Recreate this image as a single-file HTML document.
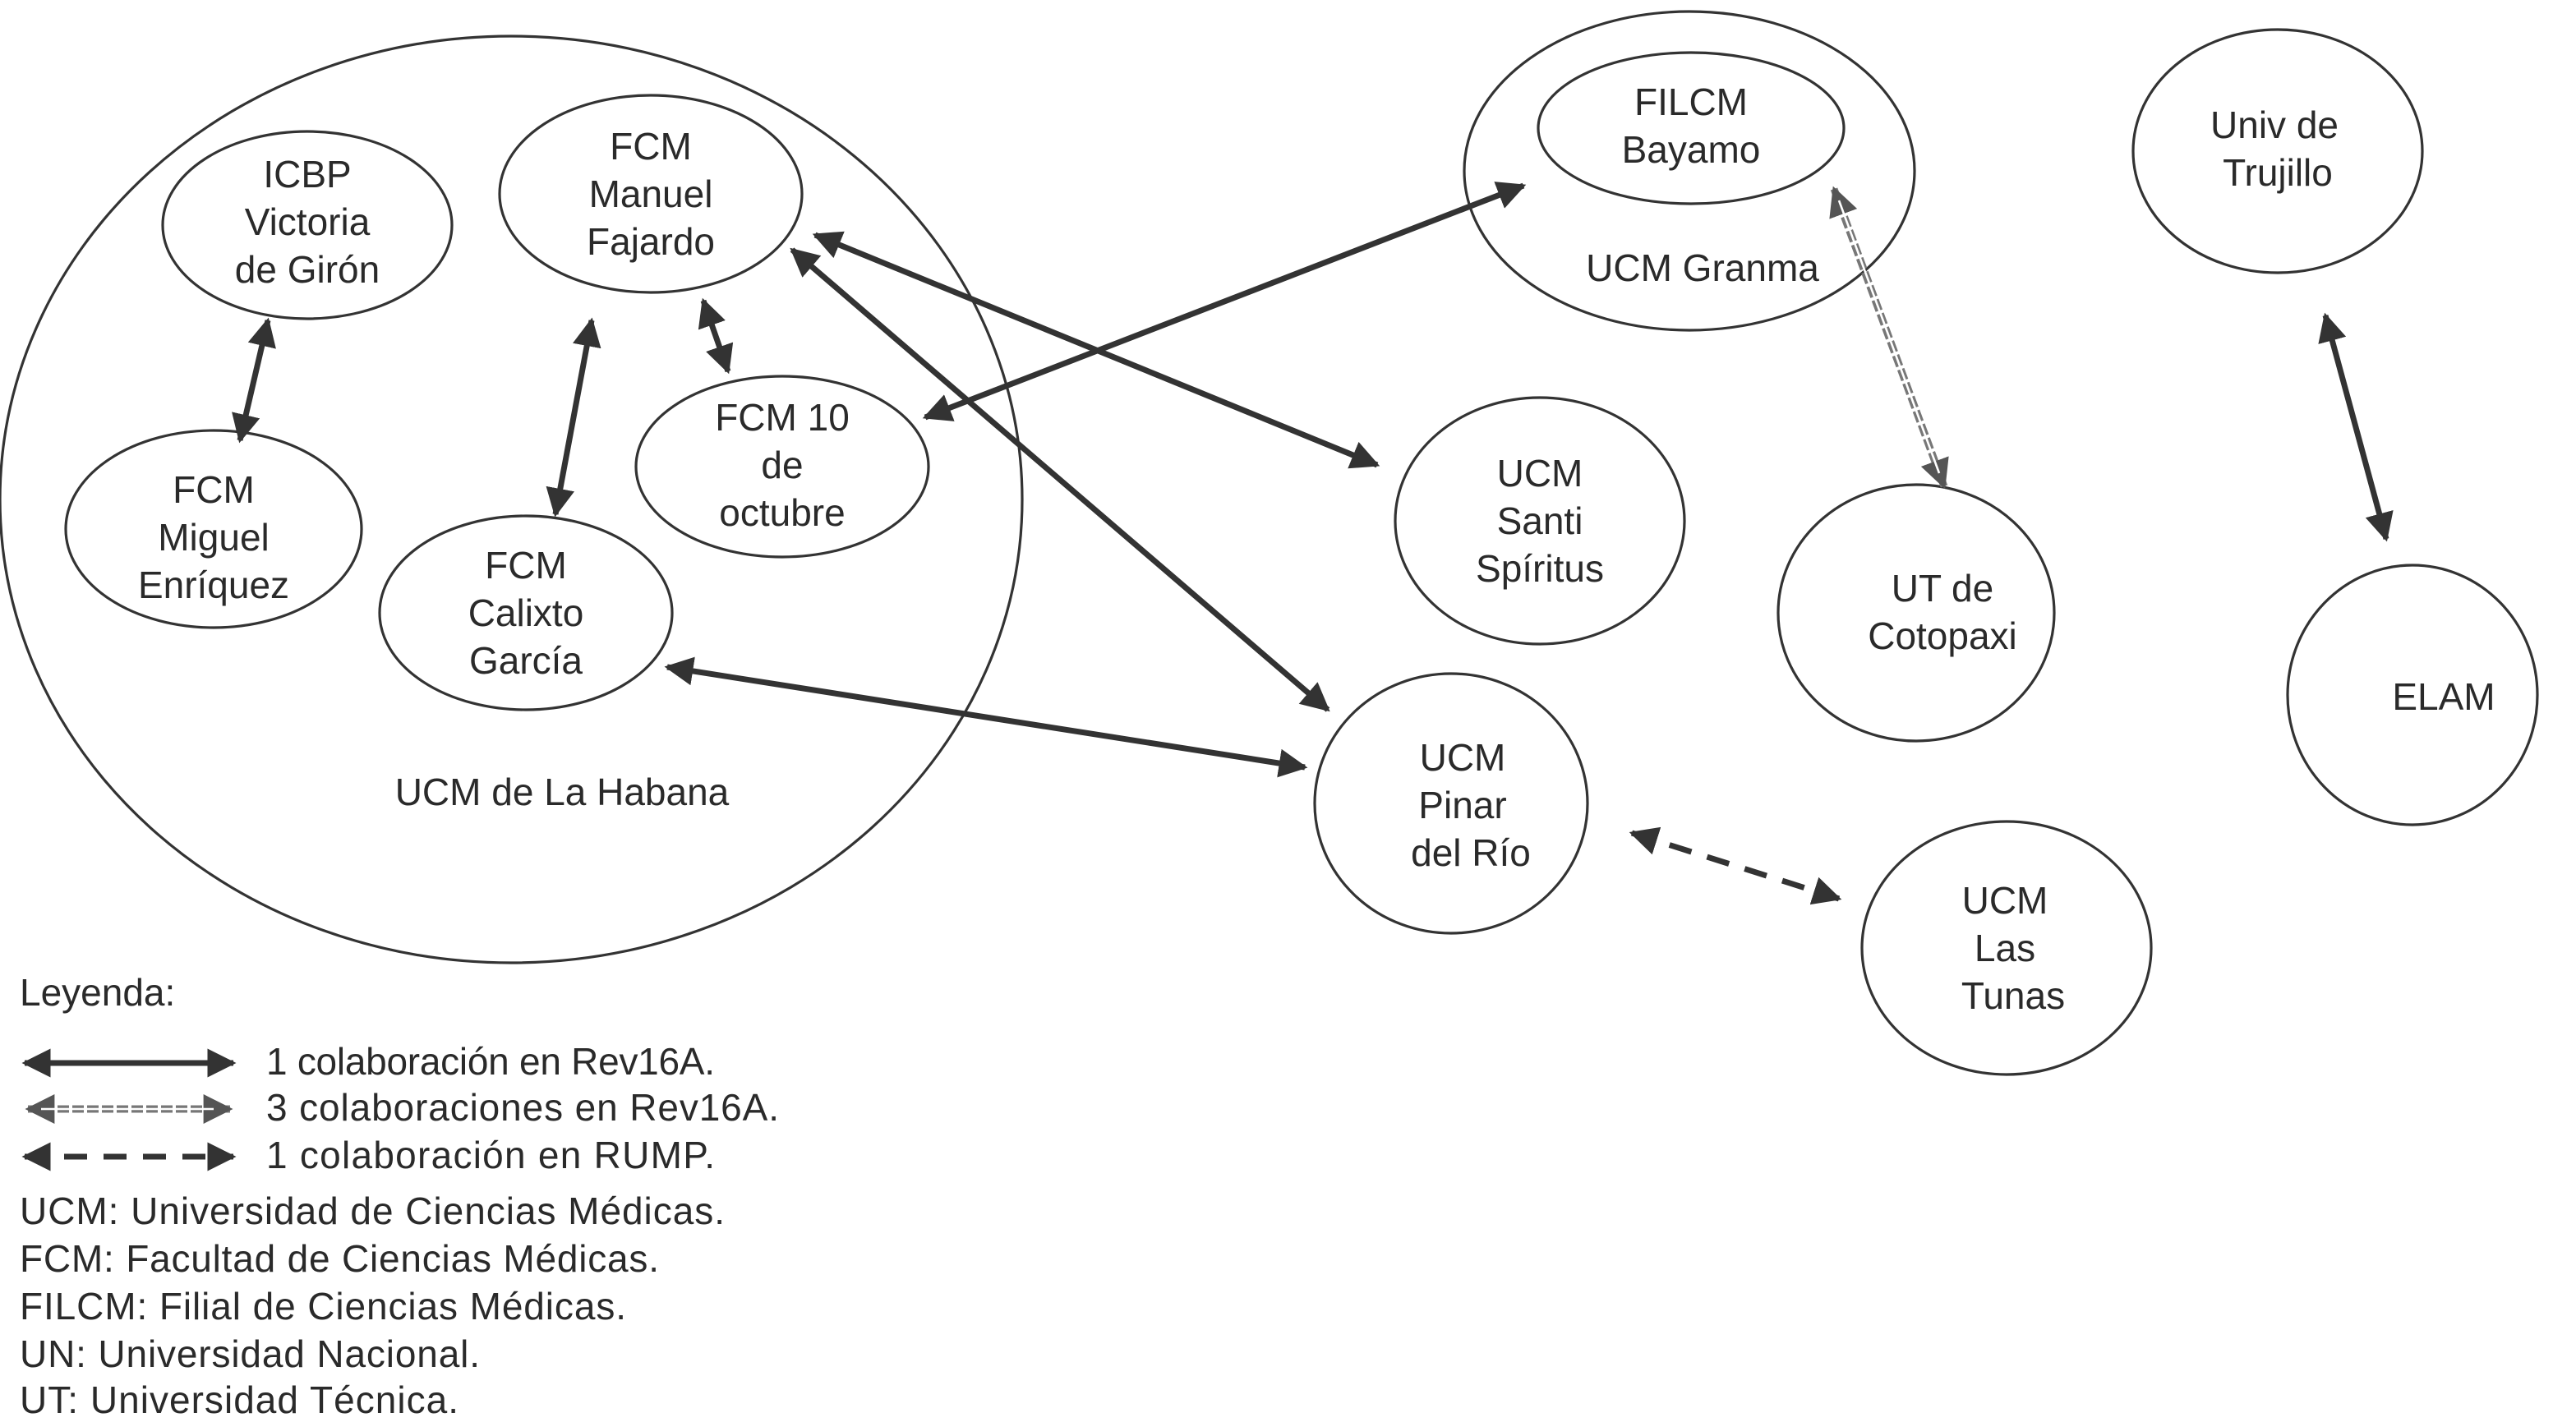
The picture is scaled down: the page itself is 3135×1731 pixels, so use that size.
<!DOCTYPE html>
<html><head><meta charset="utf-8"><style>
html,body{margin:0;padding:0;background:#fff;}
svg{display:block;}
text{font-family:"Liberation Sans",Arial,Helvetica,sans-serif;font-size:23px;fill:#2a2a2a;}
.c{text-anchor:middle;}
</style></head><body>
<svg width="3135" height="1731" viewBox="0 0 1567.5 865.5" xmlns="http://www.w3.org/2000/svg" font-family="Liberation Sans, Arial, sans-serif">
<defs>
<marker id="a" viewBox="0 0 10 10" refX="9" refY="5" markerWidth="5" markerHeight="5" orient="auto-start-reverse" markerUnits="strokeWidth"><path d="M0,0 L10,5 L0,10 z" fill="#333"/></marker>
<marker id="g" viewBox="0 0 10 10" refX="9" refY="5" markerWidth="4" markerHeight="4" orient="auto-start-reverse" markerUnits="strokeWidth"><path d="M0,0 L10,5 L0,10 z" fill="#555"/></marker>
</defs>
<g fill="none" stroke="#333" stroke-width="1.6">
<ellipse cx="311" cy="304" rx="311" ry="282"/>
<ellipse cx="187" cy="137" rx="88" ry="57"/>
<ellipse cx="396" cy="118" rx="92" ry="60"/>
<ellipse cx="130" cy="322" rx="90" ry="60"/>
<ellipse cx="476" cy="284" rx="89" ry="55"/>
<ellipse cx="320" cy="373" rx="89" ry="59"/>
<ellipse cx="1028" cy="104" rx="137" ry="97"/>
<ellipse cx="1029" cy="78" rx="93" ry="46"/>
<ellipse cx="1386" cy="92" rx="88" ry="74"/>
<ellipse cx="937" cy="317" rx="88" ry="75"/>
<ellipse cx="1166" cy="373" rx="84" ry="78"/>
<ellipse cx="1468" cy="423" rx="76" ry="79"/>
<ellipse cx="883" cy="489" rx="83" ry="79"/>
<ellipse cx="1221" cy="577" rx="88" ry="77"/>
</g>
<g stroke="#333" stroke-width="3.5" fill="none" marker-start="url(#a)" marker-end="url(#a)">
<line x1="163" y1="195" x2="146" y2="268"/>
<line x1="360" y1="195" x2="338" y2="313"/>
<line x1="428" y1="183" x2="443" y2="226"/>
<line x1="563" y1="254" x2="927" y2="113"/>
<line x1="496" y1="143" x2="838" y2="283"/>
<line x1="482" y1="152" x2="808" y2="432"/>
<line x1="406" y1="406" x2="794" y2="467"/>
<line x1="1415" y1="192" x2="1452" y2="328"/>
<line x1="993" y1="507" x2="1119" y2="547" stroke-dasharray="14 10"/>
<line x1="15" y1="647" x2="142" y2="647"/>
<line x1="15" y1="704" x2="142" y2="704" stroke-dasharray="14 10"/>
</g>
<g>
<line x1="1116" y1="115" x2="1183" y2="296" stroke="#777" stroke-width="4.5" stroke-dasharray="7 2" marker-start="url(#g)" marker-end="url(#g)"/>
<line x1="1119" y1="122" x2="1180" y2="288" stroke="#fff" stroke-width="1.3"/>
<line x1="17" y1="675" x2="140" y2="675" stroke="#777" stroke-width="4.5" stroke-dasharray="7 2" marker-start="url(#g)" marker-end="url(#g)"/>
<line x1="25" y1="675" x2="130" y2="675" stroke="#fff" stroke-width="1.3"/>
</g>
<text class="c" x="187" y="114">ICBP</text><text class="c" x="187" y="143">Victoria</text><text class="c" x="187" y="172">de Girón</text>
<text class="c" x="396" y="97">FCM</text><text class="c" x="396" y="126">Manuel</text><text class="c" x="396" y="155">Fajardo</text>
<text class="c" x="130" y="306">FCM</text><text class="c" x="130" y="335">Miguel</text><text class="c" x="130" y="364">Enríquez</text>
<text class="c" x="476" y="262">FCM 10</text><text class="c" x="476" y="291">de</text><text class="c" x="476" y="320">octubre</text>
<text class="c" x="320" y="352">FCM</text><text class="c" x="320" y="381">Calixto</text><text class="c" x="320" y="410">García</text>
<text class="c" x="342" y="490">UCM de La Habana</text>
<text class="c" x="1029" y="70">FILCM</text><text class="c" x="1029" y="99">Bayamo</text>
<text class="c" x="1036" y="171">UCM Granma</text>
<text class="c" x="1384" y="84">Univ de</text><text class="c" x="1386" y="113">Trujillo</text>
<text class="c" x="937" y="296">UCM</text><text class="c" x="937" y="325">Santi</text><text class="c" x="937" y="354">Spíritus</text>
<text class="c" x="1182" y="366">UT de</text><text class="c" x="1182" y="395">Cotopaxi</text>
<text class="c" x="1487" y="432">ELAM</text>
<text class="c" x="890" y="469">UCM</text><text class="c" x="890" y="498">Pinar</text><text class="c" x="895" y="527">del Río</text>
<text class="c" x="1220" y="556">UCM</text><text class="c" x="1220" y="585">Las</text><text class="c" x="1225" y="614">Tunas</text>
<text x="12" y="612">Leyenda:</text>
<text x="162" y="654" textLength="273">1 colaboración en Rev16A.</text>
<text x="162" y="682" textLength="312">3 colaboraciones en Rev16A.</text>
<text x="162" y="711" textLength="273">1 colaboración en RUMP.</text>
<text x="12" y="745" textLength="429">UCM: Universidad de Ciencias Médicas.</text>
<text x="12" y="774" textLength="389">FCM: Facultad de Ciencias Médicas.</text>
<text x="12" y="803" textLength="369">FILCM: Filial de Ciencias Médicas.</text>
<text x="12" y="832" textLength="280">UN: Universidad Nacional.</text>
<text x="12" y="860" textLength="267">UT: Universidad Técnica.</text>
</svg>
</body></html>
